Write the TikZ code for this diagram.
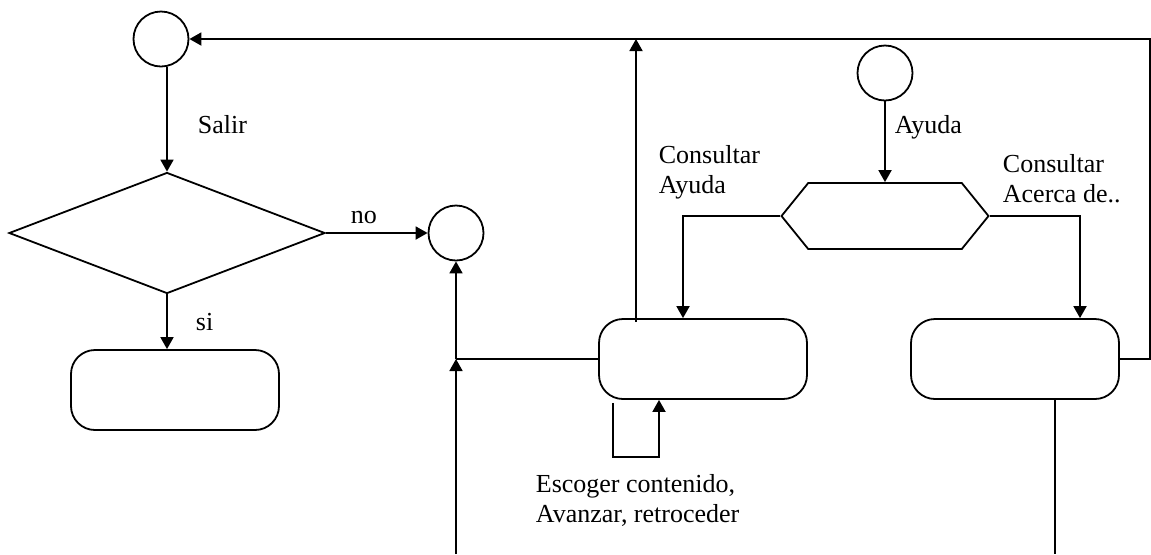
\documentclass[tikz,border=0pt]{standalone}
\usepackage{fontspec}
\setmainfont{Liberation Serif}
\usetikzlibrary{arrows.meta, positioning, calc, shapes.geometric, shapes.symbols}

\begin{document}
\begin{tikzpicture}[
    x=0.5pt, y=0.5pt,
    line width=0.9pt,
    font=\fontsize{13}{15}\selectfont,
    term/.style={draw, circle, minimum size=27.5pt, inner sep=0pt},
    proc/.style={draw, rounded corners=12pt, minimum width=104pt,
                 minimum height=40pt, inner sep=0pt},
    test/.style={draw, diamond, minimum width=158pt, minimum height=60.5pt,
                 inner sep=0pt},
    menu/.style={draw, signal, signal to=east and west, signal pointer angle=102,
                 minimum width=103.5pt, minimum height=33pt, inner sep=0pt},
    flow/.style={-{Triangle[length=6pt, width=6.5pt]}},
    lbl/.style={anchor=base west, inner sep=0pt, align=left},
]
\useasboundingbox (0,0) rectangle (1151,-554);

% --- left column: the exit question -------------------------------------------
\node[term] (start) at (161,-39) {};
\node[test] (ask) at (167,-233) {};
\node[proc] (quit) at (175,-390) {};
\node[term] (join) at (456,-233) {};
\draw[flow] (start.south -| ask.north) -- (ask.north);
\node[lbl] (salir) at (197,-133) {Salir};
\draw[flow] (ask.east) -- (join.west);
\node[lbl] (no) at (350,-223) {no};
\draw[flow] (ask.south) -- (ask.south |- quit.north);
\node[lbl] (si) at (195,-330) {si};

% --- help menu: one entry, two choices ------------------------------------------
\node[term] (help) at (885,-73) {};
\node[menu] (choose) at (885,-216) {};
\node[proc] (view) at (703,-359) {};
\node[proc] (about) at (1015,-359) {};
\draw[flow] (help) -- (choose);
\node[lbl] (ayuda) at (894,-133) {Ayuda};
\draw[flow] (choose.west) -| ([xshift=-10pt]view.north);
\node[lbl] (conayuda) at (658,-193) {Consultar\\Ayuda};
\draw[flow] (choose.east) -| ([xshift=32.5pt]about.north);
\node[lbl] (conacerca) at (1002,-202) {Consultar\\Acerca de..};

% --- ways out of the help pages -------------------------------------------------
\coordinate (tee) at (view.west -| join.south);
\coordinate (inA) at (456,-554);
\draw[flow] (inA) -- (tee);
\draw (view.west) -- (tee);
\draw[flow] (tee) -- (join.south);
\draw[flow] ([xshift=-33.5pt, yshift=-2pt]view.north) coordinate (up)
    -- (up |- start.east);
\draw[flow] ([xshift=-45pt, yshift=-1.5pt]view.south) -- ++(0,-27pt)
    -| ([xshift=-22pt]view.south);
\node[lbl] (escoger) at (535,-522) {Escoger contenido,\\Avanzar, retroceder};
\draw[flow] (about.east) -- ++(15pt,0) |- (start.east);
\coordinate (outB) at (1055,-554);
\draw ([xshift=20pt]about.south) -- (outB);

\end{tikzpicture}
\end{document}
